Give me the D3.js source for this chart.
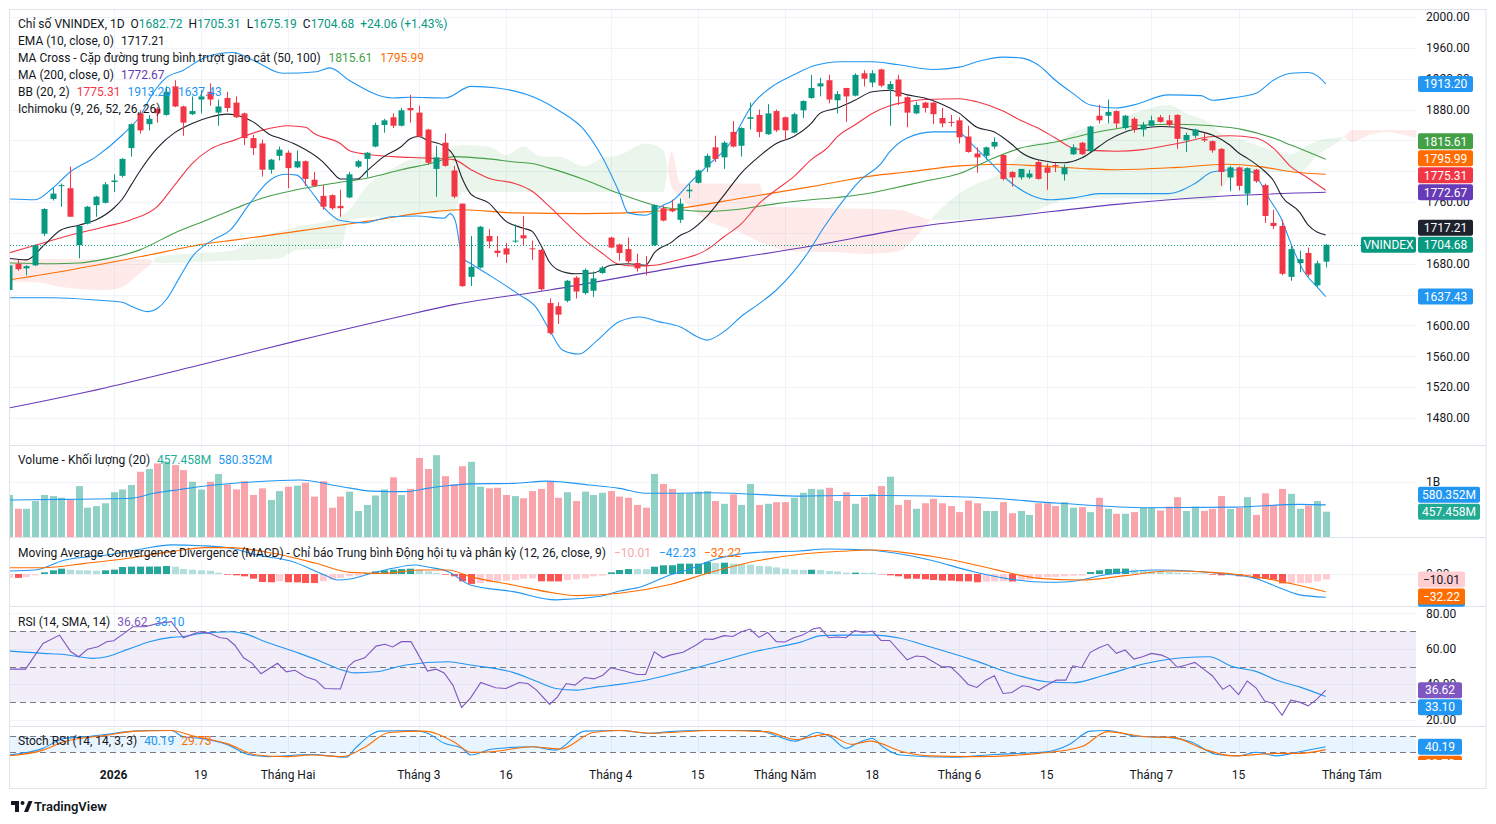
<!DOCTYPE html>
<meta charset="utf-8">
<style>
body { margin: 0; background: #fff; }
svg { display: block; font-family: Roboto, "Noto Sans", sans-serif; }
.axis-label { font-size: 12px; fill: #131722; }
.legend { font-size: 12px; fill: #131722; }
</style>
<svg width="1496" height="824"></svg>
<script src="https://cdn.jsdelivr.net/npm/d3@7"></script>
<script>

// ---- time axis (bar index of each label) ----
var tickIdx = [12, 22, 32, 47, 57, 69, 79, 89, 99, 109, 119, 131, 141, 154];
var tickLabels = ["2026", "19", "Tháng Hai", "Tháng 3", "16", "Tháng 4", "15", "Tháng Năm", "18", "Tháng 6", "15", "Tháng 7", "15", "Tháng Tám"];

// ---- daily candles ----
var open = [1646,1680,1674,1678,1719,1764,1781,1778,1704,1732, 1756,1759,1786,1794,1830,1875,1861,1881,1873,1910,
  1884,1874,1893,1903,1876,1895,1889,1875,1843,1836, 1802,1820,1824,1805,1813,1789,1768,1769,1755,1766,
  1806,1816,1832,1860,1870,1859,1882,1876,1854,1803, 1837,1801,1758,1663,1675,1716,1697,1700,1709,1717,
  1700,1698,1629,1625,1632,1662,1642,1645,1668,1714, 1705,1699,1681,1678,1704,1752,1751,1737,1774,1785,
  1805,1831,1818,1851,1833,1868,1873,1848,1878,1870, 1850,1879,1895,1910,1918,1892,1908,1898,1927,1915,
  1932,1906,1919,1896,1875,1889,1889,1869,1864,1866, 1845,1823,1820,1832,1821,1799,1792,1792,1812,1805,
  1808,1796,1822,1837,1826,1872,1872,1878,1856,1868, 1854,1859,1870,1866,1873,1840,1846,1842,1839,1829,
  1792,1805,1771,1802,1782,1733,1729,1663,1681,1694, 1652,1682.72];
var high = [1680,1685,1678,1705,1752,1778,1784,1806,1730,1755, 1768,1786,1796,1817,1862,1879,1873,1883,1910,1918,
  1885,1897,1905,1914,1893,1903,1897,1876,1847,1841, 1816,1832,1827,1827,1814,1799,1782,1770,1776,1799,
  1815,1825,1863,1868,1875,1882,1899,1885,1855,1833, 1849,1807,1758,1716,1729,1725,1716,1707,1731,1742,
  1710,1699,1635,1630,1659,1664,1674,1670,1677,1715, 1706,1714,1693,1690,1757,1755,1763,1765,1784,1802,
  1823,1846,1839,1865,1857,1889,1880,1887,1880,1871, 1876,1892,1925,1921,1925,1904,1908,1927,1931,1931,
  1933,1917,1925,1897,1890,1890,1890,1882,1873,1870, 1859,1831,1832,1844,1822,1800,1803,1802,1815,1810,
  1811,1809,1835,1838,1859,1886,1893,1879,1873,1870, 1864,1872,1873,1873,1874,1850,1855,1850,1840,1830,
  1807,1806,1805,1803,1784,1750,1737,1704,1697,1701, 1684,1705.31];
var low = [1644,1671,1665,1677,1716,1762,1754,1741,1687,1731, 1741,1758,1773,1792,1819,1849,1853,1863,1872,1883,
  1846,1873,1875,1885,1859,1877,1869,1834,1821,1793, 1797,1814,1778,1804,1781,1780,1750,1750,1741,1765,
  1804,1792,1831,1850,1856,1858,1863,1844,1808,1767, 1806,1765,1650,1651,1674,1700,1689,1681,1707,1704,
  1685,1645,1588,1602,1630,1635,1640,1637,1667,1700, 1684,1678,1670,1665,1703,1735,1747,1733,1765,1784,
  1799,1812,1803,1831,1819,1854,1844,1847,1851,1841, 1849,1869,1894,1897,1888,1875,1864,1897,1910,1909,
  1909,1859,1886,1857,1874,1876,1861,1857,1858,1836, 1824,1798,1815,1829,1788,1780,1789,1790,1789,1776,
  1799,1788,1821,1821,1825,1862,1862,1856,1854,1850, 1845,1858,1863,1857,1829,1825,1843,1838,1824,1781,
  1774,1775,1756,1785,1733,1725,1665,1658,1669,1663, 1650,1675.19];
var close = [1678,1673,1677,1704,1751,1771,1782,1741,1729,1754, 1767,1783,1788,1816,1861,1853,1868,1875,1903,1884,
  1863,1878,1897,1893,1884,1882,1870,1843,1830,1802, 1815,1828,1804,1813,1790,1781,1754,1752,1752,1796,
  1813,1824,1860,1866,1859,1879,1879,1845,1811,1818, 1807,1767,1651,1676,1728,1709,1694,1692,1710,1713,
  1699,1647,1590,1614,1658,1644,1672,1661,1675,1701, 1694,1683,1674,1677,1756,1736,1748,1758,1776,1801,
  1820,1816,1837,1832,1856,1870,1851,1875,1853,1853, 1874,1891,1908,1914,1893,1900,1897,1925,1920,1927,
  1911,1913,1897,1876,1886,1882,1874,1862,1863,1844, 1825,1818,1831,1838,1790,1792,1803,1797,1790,1798,
  1807,1805,1831,1822,1858,1866,1877,1862,1872,1854, 1860,1866,1864,1860,1842,1847,1854,1840,1827,1799,
  1805,1781,1804,1787,1742,1729,1667,1699,1686,1666, 1680.62,1704.68];

// ---- volume, billions ----
var volume = [0.76,0.51,0.51,0.65,0.76,0.74,0.71,0.67,0.92,0.53, 0.56,0.61,0.81,0.86,0.94,1.18,1.23,1.33,1.36,1.30,
  1.21,1.00,0.86,1.00,1.14,0.95,0.86,1.01,0.76,0.88, 0.67,0.83,0.91,0.93,0.98,0.73,1.01,0.53,0.73,0.82,
  0.47,0.58,0.75,0.86,1.08,0.76,0.87,1.43,1.23,1.48, 1.10,0.95,1.28,1.36,0.91,0.88,0.89,0.76,0.74,0.70,
  0.83,0.87,1.00,0.71,0.81,0.65,0.82,0.76,0.80,0.83, 0.73,0.71,0.58,0.53,1.14,0.96,0.87,0.79,0.79,0.82,
  0.83,0.65,0.60,0.77,0.58,0.96,0.58,0.60,0.63,0.63, 0.71,0.80,0.87,0.86,0.89,0.65,0.81,0.60,0.72,0.78,
  0.92,1.09,0.58,0.67,0.51,0.61,0.69,0.61,0.56,0.45, 0.66,0.61,0.47,0.47,0.63,0.43,0.47,0.40,0.61,0.61,
  0.56,0.63,0.53,0.54,0.45,0.71,0.51,0.42,0.42,0.45, 0.53,0.53,0.48,0.55,0.72,0.47,0.55,0.47,0.51,0.74,
  0.51,0.53,0.72,0.40,0.79,0.58,0.87,0.78,0.51,0.57, 0.65,0.457458];
var volMa = [[0,0.67],[6,0.68],[14,0.70],[16.6,0.79],[19.6,0.86],[23.5,0.94],[28.3,1.0],[33.3,1.03],[38.2,0.91],
  [41.6,0.83],[45.5,0.82],[48,0.88],[50.5,0.93],[52.9,0.96],[57.8,0.97],[61.7,1.01],[66.6,0.94],[70,0.88],[73,0.79],
  [76,0.79],[80.3,0.80],[85.8,0.77],[90.7,0.74],[95.6,0.75],[100.7,0.75],[110.6,0.72],[120.5,0.61],[130.5,0.53],
  [140.5,0.54],[148,0.59],[151,0.580352]];

// ---- overlays on price ----
var ema10 = [[0,1687],[2,1685],[4,1704],[6,1724],[8,1730],[10,1737],[12,1752],[13,1764],[14,1782],[15,1800],[17,1830],
  [19,1850],[21,1862],[23,1870],[25,1874],[26,1873],[28,1864],[30,1847],[31,1843],[33,1834],[36,1812],[37,1800],[38,1790],
  [40,1790],[41,1800],[43,1819],[45,1832],[46,1842],[47,1845],[48,1840],[50,1832],[51,1820],[52,1790],[53,1770],[55,1759],
  [57,1735],[59,1726],[60,1722],[61,1704],[62,1682],[63,1672],[65,1667],[67,1668],[69,1678],[71,1680],[73,1678],[74,1694],
  [76,1708],[77,1717],[78,1722],[80,1741],[82,1769],[84,1798],[86,1819],[88,1836],[90,1845],[92,1862],[93,1875],[95,1882],
  [97,1892],[99,1903],[101,1905],[103,1899],[105,1895],[107,1887],[109,1875],[111,1857],[113,1851],[115,1835],[116,1825],
  [118,1815],[121,1811],[123,1817],[125,1832],[126,1840],[128,1851],[130,1856],[132,1858],[134,1857],[136,1853],[138,1847],
  [140,1834],[141,1824],[142,1817],[144,1800],[145,1788],[146,1767],[148,1747],[149,1730],[151,1717.21]];
var bbBasis = [[0,1694],[3,1704],[7,1717],[11,1728],[14,1737],[17,1754],[19,1782],[21,1810],[23,1828],[26,1841],[29,1853],
  [32,1859],[34,1857],[35,1849],[38,1836],[39,1827],[41,1822],[44,1819],[48,1817],[51,1815],[53,1802],[55,1791],[58,1784],
  [60,1774],[62,1754],[64,1732],[66,1711],[68,1694],[70,1679],[72,1677],[74,1678],[76,1683],[80,1698],[82,1715],[84,1732],
  [86,1758],[88,1776],[90,1793],[92,1815],[94,1832],[95,1845],[97,1860],[99,1875],[101,1885],[103,1890],[105,1893],
  [109,1894],[111,1890],[114,1878],[116,1866],[118,1856],[120,1843],[122,1830],[124,1827],[127,1826],[130,1828],[134,1836],
  [138,1845],[140,1846],[143,1843],[145,1830],[147,1806],[149,1791],[151,1775.31]];
var bbUpper = [[0,1764],[3,1763],[5,1778],[7,1799],[10,1819],[13,1847],[15,1871],[16.5,1901],[18,1921],[20,1931],[22,1945],
  [23.4,1951],[25.7,1954],[28,1944],[31.4,1927],[35.3,1929],[36.8,1934],[39,1918],[44,1895],[46,1896],[50,1895],[53,1910],
  [56,1908],[61,1892],[63,1879],[66,1853],[68,1819],[70,1772],[71,1746],[73,1743],[75,1756],[76,1761],[78,1784],[80,1806],
  [82.4,1832],[85.5,1890],[87.8,1912],[90,1925],[92.4,1937],[95.4,1942],[99,1942],[102,1938],[106,1932],[109,1935],
  [111,1942],[114,1948],[116,1947],[118,1938],[120,1918],[122,1901],[124,1886],[127,1882],[129,1886],[133,1899],[136.7,1898],
  [138,1892],[140.8,1896],[143,1901],[145,1918],[147,1927],[149,1928],[150,1924],[151,1913.2]];
var bbLower = [[0,1636],[5,1636],[10,1633],[13,1630],[14,1625],[16,1618],[17,1622],[18,1633],[19.6,1663],[21,1689],
  [23.4,1711],[25.4,1724],[27.6,1758],[30,1789],[31.8,1796],[33,1795],[34.5,1776],[36,1754],[38,1736],[40.7,1733],
  [43.8,1741],[46.8,1742],[49.9,1739],[50.6,1745],[51.2,1735],[52,1688],[53,1680],[55.4,1663],[58.5,1640],[60.4,1624],
  [62,1594],[63.5,1568],[65.4,1563],[67.3,1579],[70,1605],[72.3,1611],[74.5,1605],[77,1598],[79,1585],[80,1581],[82,1592],
  [84,1612],[86,1628],[88,1646],[91.6,1694],[93.5,1728],[95.4,1758],[97.7,1789],[100,1810],[101,1825],[103,1843],[106,1851],
  [108.7,1851],[110.7,1832],[112.5,1812],[114.5,1789],[117.2,1769],[119.5,1763],[122.4,1766],[125,1771],[133,1771],
  [136,1784],[138,1799],[140.3,1802],[142.6,1799],[143.4,1787],[144.6,1763],[145.8,1741],[147.3,1698],[148.5,1670],
  [150,1650],[151,1637.43]];
var ma50 = [[0,1681],[5,1680],[8,1681],[11,1686],[15,1698],[19,1720],[23,1738],[26,1752],[29,1765],[33,1776],[37,1784],
  [41,1791],[45,1802],[49,1812],[51,1819],[55,1816],[58,1812],[60,1810],[62,1804],[66,1789],[70,1771],[74,1756],[77,1750],
  [80,1748],[84,1751],[88,1758],[92,1763],[95,1766],[99,1772],[101,1777],[103,1782],[105,1787],[109,1797],[112.5,1815],
  [116,1830],[120,1838],[124,1849],[127,1855],[130,1860],[134,1861],[138,1859],[141.5,1854],[145,1843],[147,1834],
  [149,1825],[151,1815.61]];
var ma100 = [[0,1659],[7,1672],[15,1689],[22.6,1706],[26,1711],[33,1722],[41,1735],[49,1748],[52,1750],[58,1746],[66,1745],
  [74,1748],[77,1752],[84,1765],[92,1780],[99,1794],[103,1799],[109,1807],[113.6,1809],[118,1807],[124,1803],[127,1802],
  [134,1805],[139.6,1809],[143.4,1806],[147.3,1799],[151,1795.99]];
var ma200 = [[0,1493],[11,1519],[22,1549],[33,1580],[45,1612],[51,1627],[62,1646],[77,1676],[92,1703],[101,1722],
  [103,1726],[116,1743],[127,1757],[138,1767],[151,1772.67]];
// Ichimoku leading spans (already shifted forward)
var spanA = [[0,1657],[3,1656],[6,1650],[11,1646],[13,1650],[15,1668],[16.5,1683],[17,1689],[22,1694],[26,1698],[27,1706],
  [29,1715],[33,1728],[37,1737],[39,1750],[41,1780],[43,1797],[45,1810],[47,1819],[50,1826],[52,1834],[55,1832],[57,1821],
  [59,1832],[61,1819],[63,1819],[66,1806],[68,1817],[70,1821],[73,1836],[75,1828],[76,1780],[77,1767],[80,1737],[84,1720],
  [87,1704],[90,1696],[95,1695],[98,1693],[102,1696],[104,1715],[106,1741],[108,1763],[111,1784],[113,1793],[115,1810],
  [116,1823],[118,1838],[120,1838],[122,1851],[125,1860],[127,1866],[130,1879],[133,1886],[135,1875],[138,1860],[139,1849],
  [141,1842],[143,1834],[145,1827],[147,1822],[149,1834],[151,1842],[153,1844],[154,1838],[156,1847],[158,1851],[160,1847],
  [161.5,1843]];
var spanB = [[0,1686],[16,1686],[17,1681],[25,1684],[31,1687],[33,1698],[38,1700],[39,1737],[45,1743],[51,1746],[52,1773],
  [75,1773],[76,1825],[77,1784],[86,1784],[87,1754],[102,1750],[106,1737],[116,1741],[118,1750],[121,1762],[127,1765],
  [138,1762],[140,1790],[144,1799],[148,1799],[150,1820],[153,1843],[154,1853],[161.5,1853]];

// ---- MACD (12, 26, 9) ----
var macdHist = [-6.8,-7,-5.5,-2.4,3,6.7,9.7,7.9,6.7,6.6, 6,6.7,7.9,12.7,13.3,13.4,13.5,13.6,14.5,13.3,
  9,7.9,6.7,6,2.4,-1.2,-2.4,-4.2,-8.5,-14.5, -15,-13.3,-15,-15.2,-16.4,-16.5,-13.3,-10.3,-7.3,-4.2,
  -3,1.8,4.8,6.7,7.9,9,9.7,7.9,4.8,1.8, -1.2,-4.2,-13.3,-18,-16.4,-15,-13.3,-12,-11,-8.5,
  -7.9,-13.3,-13.4,-13.5,-11,-9.7,-7.9,-4.2,-3,3, 7.3,9,8.9,8.8,13.3,15.8,15.9,18.8,18.9,19,
  21.8,20,20.6,18.8,18,17,14.5,14,12,9.7, 7.9,7.5,7.8,7.3,5.5,4.8,2.4,2.5,2.3,2.2,
  -0.6,-2.4,-4.2,-8.5,-8.6,-9.7,-11,-12,-12.1,-13.3, -13.4,-15,-14,-13.5,-13.3,-13.6,-11.5,-10.3,-7.3,-5.5,
  -5.4,-4.2,-3,-2.8,3.6,6.7,9,9.7,9.8,7.9, 6,4.8,4.7,3.6,2.4,1.8,1.7,1.2,-1.2,-2.4,
  -2.2,-4.2,-3.6,-8.5,-8.6,-10.3,-17,-16.9,-16.8,-16.4, -13.3,-10.01];
var macdLine = [[0,5.5],[3,7.3],[6.3,25],[11.2,34.5],[15.1,45],[18.6,53],[22,51.5],[25.5,46.7],[28.4,34.5],[32.3,23.6],
  [36.2,-1.8],[37.7,-10.9],[39.1,-9],[41.6,1.2],[44,10.3],[46.5,16.4],[48,12.7],[50.4,4.2],[52.9,-20],[57.8,-32],[62.7,-47],
  [67.6,-41],[70,-31],[72.5,-23],[74.4,-11],[75.8,-2],[77.8,7.3],[80.7,25.5],[85.8,39.4],[90.7,41.8],[93.7,45.5],[98.7,43.6],
  [101.7,37.6],[105.6,25.5],[110.6,4.2],[115.6,-11],[119,-15],[121.6,-14],[125.6,-1.8],[131.6,7.3],[135.5,5.5],[139.4,0],
  [142.9,-7.9],[145.4,-23],[148,-38],[151,-42.23]];
var macdSignal = [[0,11.5],[3.9,11.5],[8.8,19.4],[13.7,28.5],[18.6,40.6],[22.5,47.9],[25.5,47.9],[30.3,37.6],[35.2,19.4],
  [39.1,3],[43.1,1.2],[47,7.3],[50.4,7.3],[52.9,-4.8],[57.8,-20],[62.7,-35],[65.1,-39.4],[70,-35],[75.8,-19],[80.7,4],
  [85.8,24],[90.7,36],[95.6,41.5],[99.2,43.6],[103.2,38],[108.1,26],[113.1,8],[118.1,-7.9],[123,-11],[128,-3],[133,5.5],
  [138,3],[140.4,0],[145.4,-12],[148,-21],[151,-32.22]];

// ---- RSI (14) and its SMA 14 ----
var rsi = [[0,48.5],[1.9,48.5],[3.9,63],[5.8,67.7],[7.1,58.3],[8,55.5],[9,59.7],[10.2,61.1],[11.2,64],[12,64.5],[13.2,68.7],
  [14.2,72.4],[15.6,72.4],[17.1,74.3],[18.6,75.3],[20,66.2],[21.8,69.6],[23,68.7],[24.2,66.2],[25,65.8],[25.9,62],[26.9,54.9],
  [27.9,51.8],[28.9,45.9],[30.8,51.8],[31.8,47],[32.8,47.9],[34,44.2],[35.2,42.3],[36.2,37.6],[38,37.3],[38.9,49.8],[39.6,53],
  [40.8,54.9],[42.1,61.5],[43.1,62.5],[44,61],[45,64],[46.1,64],[48,47.4],[49,48.5],[49.9,46.4],[50.9,39.5],[51.9,26.9],
  [52.9,32],[54.1,41],[55.8,38],[57,37.6],[58.5,41],[59.5,40.4],[60.5,36.7],[62,28.6],[62.9,32.9],[63.9,40.4],[64.9,39.5],
  [66,43.8],[67.1,43],[68.1,45.1],[69,49.3],[70.5,47.6],[72,45.5],[73,45.5],[74,58.3],[75,54.9],[75.8,56.4],[77.3,58],
  [78.8,62.1],[79.8,65.5],[80.7,65.3],[82,67.4],[83,66.9],[84,69.6],[85,71.1],[86,66.4],[87,69.2],[88,64],[89,63.8],[90,66.2],
  [91,67.7],[92.2,71.1],[93,71.9],[94,66.2],[95,66.6],[96,66.2],[97,70.2],[98,69.2],[99,70],[100,64.7],[101,64.7],[103,53.8],
  [104,55.9],[105,55.5],[107,49.8],[108,49.8],[109,45.1],[110,39.9],[111,38.2],[112,42.3],[113,44.8],[114,34.8],[115,35.3],
  [116.2,39.1],[117,38.6],[118.1,36.7],[119.2,40],[120.1,42.3],[121.2,42.3],[122,50.4],[123,49.3],[124,58],[125,60.6],
  [126,62.5],[127,57.4],[128,59.3],[129,54.2],[130,55.5],[131,57.4],[132.2,56.4],[133,54.6],[134,49.5],[135,50.8],[136,52.3],
  [137,48.5],[138,44.8],[139.2,37.1],[140,39.5],[141,34.2],[142,41.8],[143,38],[144,30.5],[145,29.2],[146,22.5],[147,31],
  [148,29.9],[149,27.8],[150,31.6],[151,36.62]];
var rsiMa = [[0,58.7],[3.9,57.4],[6.3,56.8],[8,55.5],[9.5,54.6],[11.2,55.5],[13.7,59.8],[16.1,64],[18.6,66.4],[20,66.9],
  [22,68.7],[25.5,69.6],[26.9,68.7],[29.4,64],[33.3,57.4],[35.7,53],[38.2,48],[39.6,46.4],[42.1,47],[45.5,50.8],[50.4,52.7],
  [52.9,50.8],[57.8,46.7],[60.2,42.3],[62.7,37.6],[65.1,36.7],[67.6,38.5],[70,39.9],[72.5,41.8],[75.8,45.5],[80.7,51.8],
  [85.8,58.7],[90.7,63.6],[93.2,67.4],[95.6,67.7],[99.2,67.7],[102.2,65.9],[105.6,61.1],[110.6,53.6],[115.6,45.1],[119,41.4],
  [122,40.8],[125.6,45.1],[130.5,51.8],[134.6,54.9],[137.6,55.5],[140.4,49.8],[142.9,47.4],[145.4,42.3],[148,38.5],[151,33.1]];

// ---- Stoch RSI (14, 14, 3, 3) ----
var stochK = [[0,10],[3.9,34.5],[6.3,71],[8.8,77],[11.2,86],[13.7,96],[16.1,100],[18.6,100],[20,77],[22,71],[25,49],[27.4,12.5],
  [29.8,4],[34.7,12],[38.7,2],[39.7,34.5],[42.6,98],[46.5,100],[48,90],[50,52],[51.9,36],[53,10],[55.3,31],[60,40.5],[62.7,28],
  [66,98],[70,100],[73.4,90],[75.8,96],[78.8,100],[85.8,100],[87.8,83],[90.2,61],[92.7,93],[94.2,77],[96,34.5],[97.2,52],
  [99,71],[100.2,40.5],[102.2,10],[108.1,2],[113,12],[119,22],[121.6,49],[124,98],[126,100],[129,80],[133,75],[135.5,59],
  [138.5,12],[141,7],[143,20],[145.4,7],[148,22],[151,40.19]];
var stochD = [[0,7],[3.9,28],[6.3,59],[11.2,83],[14.7,98],[18.6,100],[21,81],[25,52],[28.4,10],[31.8,4],[34.7,10],[38.2,4],
  [40.6,34.5],[43.6,93],[47.5,98],[51,59],[53,20],[55.3,22],[60,40.5],[63.2,32],[67,93],[70,100],[73.9,90],[75.8,93],
  [80.7,100],[86.8,96],[90.2,67],[93.7,86],[96.7,49],[98.7,61],[102.7,20],[105.6,7],[110.6,4],[118.1,16],[123,40.5],[126,96],
  [130.5,77],[133.5,75],[137,32],[140.4,7],[145.4,16],[148,16],[151,29.73]];

// ---- axis ticks ----
var priceTicks = [2000, 1960, 1920, 1880, 1840, 1800, 1760, 1720, 1680, 1640, 1600, 1560, 1520, 1480];
var rsiTicks = [80, 60, 40, 20];

var UP = "#089981", DOWN = "#f23645", TEXT = "#131722";

var svg = d3.select("svg"),
    plotL = 10, plotR = 1416, axisR = 1486;

var panes = {
  main:  {top: 10,  bottom: 445},
  vol:   {top: 446, bottom: 537},
  macd:  {top: 538, bottom: 606},
  rsi:   {top: 607, bottom: 726},
  stoch: {top: 727, bottom: 759}
};

var x = d3.scaleLinear().domain([0, 151]).range([9, 1325.7]);
var yP = d3.scaleLinear().domain([1480, 2000]).range([418, 17]);
var yV = d3.scaleLinear().domain([0, 1]).range([537, 481.7]);
var yM = d3.scaleLinear().domain([0, -40]).range([574, 596]);
var yR = d3.scaleLinear().domain([20, 80]).range([719.7, 613.3]);
var yS = d3.scaleLinear().domain([20, 80]).range([752.3, 736]);

var defs = svg.append("defs");
Object.keys(panes).forEach(function(k) {
  var p = panes[k];
  defs.append("clipPath").attr("id", "clip-" + k)
    .append("rect").attr("x", plotL).attr("y", p.top)
    .attr("width", plotR - plotL).attr("height", p.bottom - p.top);
});

// frame
svg.append("rect").attr("x", 9.5).attr("y", 9.5).attr("width", axisR - 9.5).attr("height", 779)
  .attr("fill", "#fff").attr("stroke", "#e0e3eb");

// vertical grid
svg.append("g").selectAll("line").data(tickIdx).enter().append("line")
  .attr("x1", function(d) { return Math.round(x(d)) + 0.5; })
  .attr("x2", function(d) { return Math.round(x(d)) + 0.5; })
  .attr("y1", 10).attr("y2", 760)
  .attr("stroke", "#f0f3fa");

// horizontal grid
function hgrid(vals, scale) {
  svg.append("g").selectAll("line").data(vals).enter().append("line")
    .attr("x1", plotL).attr("x2", plotR)
    .attr("y1", function(d) { return Math.round(scale(d)) + 0.5; })
    .attr("y2", function(d) { return Math.round(scale(d)) + 0.5; })
    .attr("stroke", "#f0f3fa");
}
hgrid(priceTicks, yP);
hgrid([1], yV);
hgrid([0], yM);
hgrid(rsiTicks, yR);

// pane separators
[445.5, 537.5, 606.5, 726.5].forEach(function(y) {
  svg.append("line").attr("x1", 10).attr("x2", axisR).attr("y1", y).attr("y2", y).attr("stroke", "#e0e3eb");
});

function lineGen(scale, curve) {
  return d3.line().x(function(d) { return x(d[0]); }).y(function(d) { return scale(d[1]); })
    .curve(curve || d3.curveMonotoneX);
}

// ================= main pane =================
var gMain = svg.append("g").attr("clip-path", "url(#clip-main)");

// Ichimoku cloud
function areaBelow(data) {
  return d3.area().x(function(d) { return x(d[0]); }).y0(panes.main.bottom)
    .y1(function(d) { return yP(d[1]); }).curve(d3.curveMonotoneX)(data);
}
function areaAbove(data) {
  return d3.area().x(function(d) { return x(d[0]); }).y0(panes.main.top)
    .y1(function(d) { return yP(d[1]); }).curve(d3.curveMonotoneX)(data);
}
defs.append("clipPath").attr("id", "belowA").append("path").attr("d", areaBelow(spanA));
defs.append("clipPath").attr("id", "aboveA").append("path").attr("d", areaAbove(spanA));
gMain.append("g").attr("clip-path", "url(#belowA)").append("path")
  .attr("d", areaAbove(spanB)).attr("fill", "rgba(67,160,71,0.11)");
gMain.append("g").attr("clip-path", "url(#aboveA)").append("path")
  .attr("d", areaBelow(spanB)).attr("fill", "rgba(244,67,54,0.11)");

// moving averages and bands
[[ma200, "#673ab7"], [ma100, "#ff6d00"], [ma50, "#43a047"],
 [bbUpper, "#2196f3"], [bbLower, "#2196f3"], [bbBasis, "#f23645"], [ema10, "#1e222d"]].forEach(function(s) {
  gMain.append("path").datum(s[0]).attr("d", lineGen(yP))
    .attr("fill", "none").attr("stroke", s[1]).attr("stroke-width", 1.1);
});

// last price line
gMain.append("line").attr("x1", plotL).attr("x2", 1361)
  .attr("y1", Math.round(yP(close[151])) + 0.5).attr("y2", Math.round(yP(close[151])) + 0.5)
  .attr("stroke", UP).attr("stroke-dasharray", "1,2");

// candles
var bars = d3.range(open.length);
var candle = gMain.append("g").selectAll("g").data(bars).enter().append("g")
  .attr("fill", function(i) { return close[i] >= open[i] ? UP : DOWN; })
  .attr("stroke", function(i) { return close[i] >= open[i] ? UP : DOWN; });
candle.append("line")
  .attr("x1", function(i) { return Math.round(x(i)) + 0.5; })
  .attr("x2", function(i) { return Math.round(x(i)) + 0.5; })
  .attr("y1", function(i) { return yP(high[i]); })
  .attr("y2", function(i) { return yP(low[i]); });
candle.append("rect")
  .attr("stroke", "none")
  .attr("x", function(i) { return Math.round(x(i)) - 2.5; })
  .attr("width", 6)
  .attr("y", function(i) { return yP(Math.max(open[i], close[i])); })
  .attr("height", function(i) { return Math.max(1, Math.abs(yP(open[i]) - yP(close[i]))); });

// ================= volume =================
var gVol = svg.append("g").attr("clip-path", "url(#clip-vol)");
gVol.selectAll("rect").data(bars).enter().append("rect")
  .attr("x", function(i) { return Math.round(x(i)) - 3; })
  .attr("width", 7)
  .attr("y", function(i) { return yV(volume[i]); })
  .attr("height", function(i) { return yV(0) - yV(volume[i]); })
  .attr("fill", function(i) { return close[i] >= open[i] ? "rgba(8,153,129,0.45)" : "rgba(242,54,69,0.45)"; });
gVol.append("path").datum(volMa).attr("d", lineGen(yV))
  .attr("fill", "none").attr("stroke", "#2196f3").attr("stroke-width", 1.1);

// ================= MACD =================
var gMacd = svg.append("g").attr("clip-path", "url(#clip-macd)");
gMacd.selectAll("rect").data(bars).enter().append("rect")
  .attr("x", function(i) { return Math.round(x(i)) - 3; })
  .attr("width", 7)
  .attr("y", function(i) { return Math.min(yM(0), yM(macdHist[i])); })
  .attr("height", function(i) { return Math.abs(yM(macdHist[i]) - yM(0)); })
  .attr("fill", function(i) {
    var h = macdHist[i], prev = i > 0 ? macdHist[i - 1] : h;
    if (h >= 0) return h > prev ? "#26a69a" : "#b2dfdb";
    return h < prev ? "#ff5252" : "#ffcdd2";
  });
gMacd.append("path").datum(macdLine).attr("d", lineGen(yM))
  .attr("fill", "none").attr("stroke", "#2196f3").attr("stroke-width", 1.1);
gMacd.append("path").datum(macdSignal).attr("d", lineGen(yM))
  .attr("fill", "none").attr("stroke", "#ff6d00").attr("stroke-width", 1.1);

// ================= RSI =================
var gRsi = svg.append("g").attr("clip-path", "url(#clip-rsi)");
gRsi.append("rect").attr("x", plotL).attr("width", plotR - plotL)
  .attr("y", yR(70)).attr("height", yR(30) - yR(70)).attr("fill", "rgba(126,87,194,0.1)");
[70, 50, 30].forEach(function(v) {
  gRsi.append("line").attr("x1", plotL).attr("x2", plotR)
    .attr("y1", Math.round(yR(v)) + 0.5).attr("y2", Math.round(yR(v)) + 0.5)
    .attr("stroke", "#787b86").attr("stroke-dasharray", "6,4");
});
gRsi.append("path").datum(rsiMa).attr("d", lineGen(yR))
  .attr("fill", "none").attr("stroke", "#2196f3").attr("stroke-width", 1.1);
gRsi.append("path").datum(rsi).attr("d", lineGen(yR, d3.curveLinear))
  .attr("fill", "none").attr("stroke", "#7e57c2").attr("stroke-width", 1.1);

// ================= Stoch RSI =================
var gSt = svg.append("g").attr("clip-path", "url(#clip-stoch)");
gSt.append("rect").attr("x", plotL).attr("width", plotR - plotL)
  .attr("y", yS(80)).attr("height", yS(20) - yS(80)).attr("fill", "rgba(33,150,243,0.1)");
[80, 20].forEach(function(v) {
  gSt.append("line").attr("x1", plotL).attr("x2", plotR)
    .attr("y1", Math.round(yS(v)) + 0.5).attr("y2", Math.round(yS(v)) + 0.5)
    .attr("stroke", "#787b86").attr("stroke-dasharray", "6,4");
});
gSt.append("path").datum(stochK).attr("d", lineGen(yS))
  .attr("fill", "none").attr("stroke", "#2196f3").attr("stroke-width", 1.1);
gSt.append("path").datum(stochD).attr("d", lineGen(yS))
  .attr("fill", "none").attr("stroke", "#ff6d00").attr("stroke-width", 1.1);

// ================= value badges (positions first) =================
function fmtM(v) { return (v * 1000).toFixed(3) + "M"; }
function minus(v) { return v < 0 ? "\u2212" + Math.abs(v).toFixed(2) : v.toFixed(2); }
function last(a) { return a[a.length - 1][1]; }
// stack badges of one pane so they do not overlap
function stack(items, upward) {
  items.sort(function(a, b) { return upward ? b.y - a.y : a.y - b.y; });
  for (var k = 1; k < items.length; k++) {
    if (upward) items[k].y = Math.min(items[k].y, items[k - 1].y - 17);
    else items[k].y = Math.max(items[k].y, items[k - 1].y + 17);
  }
  return items;
}
var mainBadges = stack([
  {v: last(bbUpper), c: "#2196f3"},
  {v: last(ma50), c: "#43a047"},
  {v: last(ma100), c: "#ff6d00"},
  {v: last(bbBasis), c: "#f23645"},
  {v: last(ma200), c: "#673ab7"},
  {v: last(ema10), c: "#1e222d"},
  {v: close[151], c: UP},
  {v: last(bbLower), c: "#2196f3"}
].map(function(b) { b.y = yP(b.v); return b; }), true);
// a tick label is skipped when the badges cover it completely
function covered(y) {
  return mainBadges.some(function(b) { return Math.abs(b.y - y) <= 8.6; });
}
function hidden(y) { return covered(y - 4) && covered(y + 4); }

// ================= axes =================
var gAxis = svg.append("g").attr("class", "axis-label");
priceTicks.filter(function(v) { return !hidden(yP(v)); }).forEach(function(v) {
  gAxis.append("text").attr("x", 1426).attr("y", yP(v)).attr("dy", "0.35em").text(v.toFixed(2));
});
gAxis.append("text").attr("x", 1426).attr("y", yV(1)).attr("dy", "0.35em").text("1B");
gAxis.append("text").attr("x", 1426).attr("y", yM(0)).attr("dy", "0.35em").text("0.00");
rsiTicks.forEach(function(v) {
  gAxis.append("text").attr("x", 1426).attr("y", yR(v)).attr("dy", "0.35em").text(v.toFixed(2));
});

// time axis
svg.append("g").selectAll("text").data(tickIdx).enter().append("text")
  .attr("class", "axis-label")
  .attr("x", function(d) { return x(d); })
  .attr("y", 779)
  .attr("text-anchor", "middle")
  .attr("font-weight", function(d, i) { return i === 0 ? "bold" : null; })
  .text(function(d, i) { return tickLabels[i]; });

// badges
function badge(y, label, bg, fg, bx, bw) {
  var g = svg.append("g");
  g.append("rect").attr("x", bx || 1418).attr("y", y - 8).attr("width", bw || 55).attr("height", 16)
    .attr("rx", 2).attr("fill", bg);
  g.append("text").attr("x", (bx || 1418) + (bw || 55) / 2).attr("y", y).attr("dy", "0.35em")
    .attr("text-anchor", "middle").attr("font-size", 12).attr("fill", fg).text(label);
}
mainBadges.forEach(function(b) { badge(b.y, b.v.toFixed(2), b.c, "#fff"); });
badge(yP(close[151]), "VNINDEX", UP, "#fff", 1361, 55);

var volBadges = stack([
  {v: volume[151], c: "#22ab94"},
  {v: last(volMa), c: "#2196f3"}
].map(function(b) { b.y = yV(b.v); return b; }), true);
volBadges.forEach(function(b) { badge(b.y, fmtM(b.v), b.c, "#fff", 1418, 62); });

var macdBadges = stack([
  {v: macdHist[151], c: "#ffcdd2", f: TEXT},
  {v: last(macdSignal), c: "#ff6d00", f: "#fff"}
].map(function(b) { b.y = yM(b.v); return b; }), false);
badge(yM(last(macdLine)) + 1.5, minus(last(macdLine)), "#2196f3", "#fff", 1418, 47);
macdBadges.forEach(function(b) { badge(b.y, minus(b.v), b.c, b.f, 1418, 47); });

var rsiBadges = stack([
  {v: last(rsi), c: "#7e57c2"},
  {v: last(rsiMa), c: "#2196f3"}
].map(function(b) { b.y = yR(b.v); return b; }), false);
rsiBadges.forEach(function(b) { badge(b.y, b.v.toFixed(2), b.c, "#fff", 1418, 44); });

var stBadges = stack([
  {v: last(stochK), c: "#2196f3"},
  {v: last(stochD), c: "#ff6d00"}
].map(function(b) { b.y = yS(b.v); return b; }), false);
defs.append("clipPath").attr("id", "clip-stb").append("rect").attr("x", 1416).attr("y", 727).attr("width", 70).attr("height", 33);
var gStB = svg.append("g").attr("clip-path", "url(#clip-stb)");
stBadges.forEach(function(b) {
  gStB.append("rect").attr("x", 1418).attr("y", b.y - 8).attr("width", 44).attr("height", 16).attr("rx", 2).attr("fill", b.c);
  gStB.append("text").attr("x", 1440).attr("y", b.y).attr("dy", "0.35em").attr("text-anchor", "middle")
    .attr("font-size", 12).attr("fill", "#fff").text(b.v.toFixed(2));
});

// ================= legends =================
function legend(y, parts) {
  var t = svg.append("text").attr("class", "legend").attr("x", 18).attr("y", y).attr("dy", "0.35em");
  parts.forEach(function(p) {
    t.append("tspan").attr("dx", p[2] || 0).attr("fill", p[1] || TEXT).text(p[0]);
  });
}
var chg = close[151] - close[150];
legend(24, [["Chỉ số VNINDEX, 1D"], ["O", TEXT, 6], [open[151].toFixed(2), UP], ["H", TEXT, 6], [high[151].toFixed(2), UP],
  ["L", TEXT, 6], [low[151].toFixed(2), UP], ["C", TEXT, 6], [close[151].toFixed(2), UP],
  ["+" + chg.toFixed(2) + " (+" + (chg / close[150] * 100).toFixed(2) + "%)", UP, 6]]);
legend(41, [["EMA (10, close, 0)"], [last(ema10).toFixed(2), TEXT, 7]]);
legend(58, [["MA Cross - Cặp đường trung bình trượt giao cắt (50, 100)"], [last(ma50).toFixed(2), "#43a047", 8],
  [last(ma100).toFixed(2), "#ff6d00", 8]]);
legend(75, [["MA (200, close, 0)"], [last(ma200).toFixed(2), "#673ab7", 7]]);
legend(92, [["BB (20, 2)"], [last(bbBasis).toFixed(2), "#f23645", 7], [last(bbUpper).toFixed(2), "#2196f3", 7],
  [last(bbLower).toFixed(2), "#2196f3", 7]]);
legend(109, [["Ichimoku (9, 26, 52, 26, 26)"]]);
legend(460, [["Volume - Khối lượng (20)"], [fmtM(volume[151]), "#22ab94", 7], [fmtM(last(volMa)), "#2196f3", 7]]);
legend(553, [["Moving Average Convergence Divergence (MACD) - Chỉ báo Trung bình Động hội tụ và phân kỳ (12, 26, close, 9)"],
  [minus(macdHist[151]), "#f7a6ad", 8], [minus(last(macdLine)), "#2196f3", 8], [minus(last(macdSignal)), "#ff6d00", 8]]);
legend(622, [["RSI (14, SMA, 14)"], [last(rsi).toFixed(2), "#7e57c2", 7], [last(rsiMa).toFixed(2), "#2196f3", 7]]);
legend(741, [["Stoch RSI (14, 14, 3, 3)"], [last(stochK).toFixed(2), "#2196f3", 7], [last(stochD).toFixed(2), "#ff6d00", 7]]);

// ================= TradingView mark =================
var logo = svg.append("g").attr("fill", TEXT);
logo.append("path").attr("d", "M11 801h8v11h-4v-7h-4z");
logo.append("circle").attr("cx", 22.5).attr("cy", 803).attr("r", 2);
logo.append("path").attr("d", "M24 812l4.5-11h4l-4.5 11z");
logo.append("text").attr("x", 34).attr("y", 806).attr("dy", "0.35em").attr("font-size", 13)
  .attr("font-weight", 600).text("TradingView");

</script>
